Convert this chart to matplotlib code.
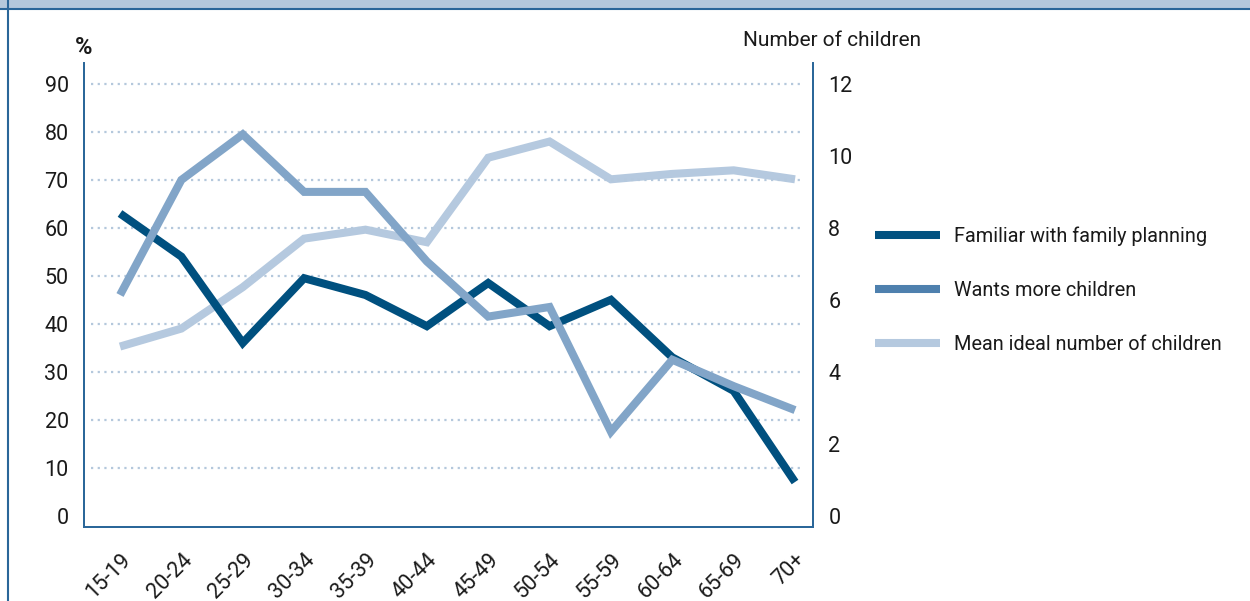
import matplotlib
matplotlib.use('Agg')
import matplotlib.pyplot as plt
import matplotlib.transforms as mtransforms
from matplotlib.lines import Line2D
from matplotlib.patches import Rectangle

plt.rcParams['font.family'] = ['Roboto', 'DejaVu Sans']

# data
age_groups = ['15-19', '20-24', '25-29', '30-34', '35-39', '40-44',
              '45-49', '50-54', '55-59', '60-64', '65-69', '70+']
familiar = [63, 54, 36, 49.5, 46, 39.5, 48.5, 39.5, 45, 33, 26, 7]
wants_more = [46, 70, 79.5, 67.5, 67.5, 53, 41.5, 43.5, 17.5, 32.5, 27, 22]
mean_ideal = [4.7, 5.2, 6.35, 7.7, 7.95, 7.6, 9.95, 10.4, 9.35, 9.5, 9.6, 9.35]

left_ticks = [0, 10, 20, 30, 40, 50, 60, 70, 80, 90]
right_ticks = [0, 2, 4, 6, 8, 10, 12]

c_dark = '#00507f'
c_mid = '#82a5c8'
c_mid_leg = '#4e80ae'
c_light = '#b5c9df'
c_spine = '#2a6699'
c_grid = '#b4c8dc'

fig = plt.figure(figsize=(12.5, 6.01), dpi=100)
ax = fig.add_axes([0.0672, 0.1231, 0.5832, 0.7721])
ax2 = ax.twinx()
ax2.set_zorder(ax.get_zorder() - 1)
ax.patch.set_visible(False)

x = list(range(len(age_groups)))
lw = 5.8
ax.plot(x, familiar, color=c_dark, lw=lw, solid_capstyle='butt', solid_joinstyle='miter', zorder=3)
ax.plot(x, wants_more, color=c_mid, lw=lw, solid_capstyle='butt', solid_joinstyle='miter', zorder=4)
ax2.plot(x, mean_ideal, color=c_light, lw=lw, solid_capstyle='butt', solid_joinstyle='miter')

ax.set_xlim(-0.587, 11.293)
ax.set_ylim(-2.38, 94.38)
ax2.set_ylim(-2.38 / 7.5, 94.38 / 7.5)

# dotted gridlines, not full width
ax.hlines(left_ticks[1:], 0.0096, 0.985, transform=ax.get_yaxis_transform(),
          colors=c_grid, linestyles=(0, (1, 2)), lw=1.6, zorder=1)

ax.set_yticks(left_ticks)
ax2.set_yticks(right_ticks)
ax.set_xticks(x)
ax.set_xticklabels(age_groups, rotation=45, ha='right', rotation_mode='anchor')
off = mtransforms.ScaledTranslation(12 / 100, 0, fig.dpi_scale_trans)
for lab in ax.get_xticklabels():
    lab.set_transform(lab.get_transform() + off)

ax.tick_params(axis='both', length=0, labelsize=15.5, colors='#1a1a1a', pad=11)
ax.tick_params(axis='x', pad=16)
ax2.tick_params(axis='y', length=0, labelsize=15.5, colors='#1a1a1a', pad=11)

for a in (ax, ax2):
    a.spines['top'].set_visible(False)
    for s in ('left', 'right', 'bottom'):
        a.spines[s].set_color(c_spine)
        a.spines[s].set_linewidth(1.3)

fig.text(84 / 1250, 1 - 47 / 601, '%', fontsize=17, fontweight='bold', ha='center', va='center', color='#1a1a1a')
fig.text(832 / 1250, 1 - 40 / 601, 'Number of children', fontsize=15, ha='center', va='center', color='#1a1a1a')

handles = [Line2D([], [], color=c_dark, lw=lw, solid_capstyle='butt'),
           Line2D([], [], color=c_mid_leg, lw=lw, solid_capstyle='butt'),
           Line2D([], [], color=c_light, lw=lw, solid_capstyle='butt')]
labels = ['Familiar with family planning', 'Wants more children', 'Mean ideal number of children']
fig.legend(handles, labels, loc='center left', bbox_to_anchor=(857 / 1250, 1 - 290 / 601),
           frameon=False, fontsize=14.3, handlelength=3.3, handletextpad=0.7, labelspacing=1.77,
           labelcolor='#1a1a1a')

# header band and frame
fig.patches.append(Rectangle((0, 1 - 8 / 601), 1, 8 / 601, transform=fig.transFigure,
                             facecolor='#b4c8dc', edgecolor='none'))
fig.lines.append(Line2D([0, 1], [1 - 8.5 / 601, 1 - 8.5 / 601], transform=fig.transFigure,
                        color=c_spine, lw=1.5))
fig.lines.append(Line2D([8 / 1250, 8 / 1250], [0, 1], transform=fig.transFigure,
                        color=c_spine, lw=1.5))

fig.savefig('out.png', dpi=100)
